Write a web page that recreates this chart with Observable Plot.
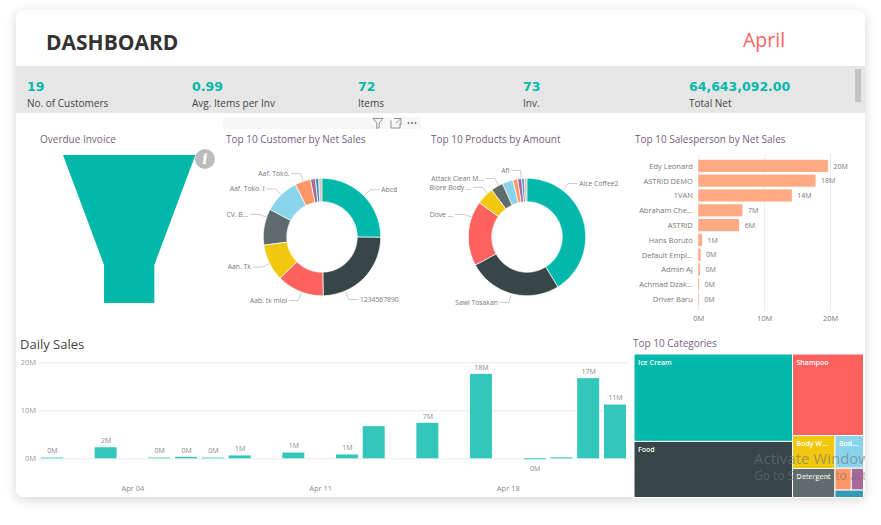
<!DOCTYPE html>
<html><head><meta charset="utf-8">
<script src="https://cdn.jsdelivr.net/npm/d3@7"></script>
<script src="https://cdn.jsdelivr.net/npm/@observablehq/plot@0.6"></script>
<style>
html,body{margin:0;padding:0;background:#fff;width:881px;height:525px;overflow:hidden;font-family:"Open Sans",sans-serif}
#card{position:absolute;left:16px;top:10px;width:849px;height:487px;background:#fff;border-radius:7px;box-shadow:0 3px 12px rgba(0,0,0,.16)}
#band{position:absolute;left:16px;top:65.5px;width:849px;height:47.5px;background:#e6e6e6}
#scroll{position:absolute;left:855px;top:69px;width:6px;height:33px;background:#c4c4c4}
#strip{position:absolute;left:223px;top:117px;width:198px;height:12px;background:#f7f7f7}
.t{position:absolute;white-space:nowrap;transform:translateY(-50%);line-height:1}
.p{position:absolute}
.p svg{display:block;overflow:visible}
#wm{position:absolute;left:754px;top:440px;width:111px;height:50px;overflow:hidden;pointer-events:none}
#wm div{position:absolute;left:0;white-space:nowrap;color:rgba(115,115,115,.62);line-height:1}
#info{position:absolute;left:195px;top:149px;width:20px;height:20px;border-radius:50%;background:#bdbcbd;color:#fff;font:italic bold 14px/20px "DejaVu Serif",serif;text-align:center}
</style></head><body>
<div id="card"></div><div id="band"></div><div id="scroll"></div><div id="strip"></div>
<svg style="position:absolute;left:372px;top:117px" width="46" height="12" fill="none" stroke="#777" stroke-width=".8">
<path d="M1 1.5H11L7.2 6V10.5L4.8 11.5V6Z"/><path d="M19 3.5V11H28V6M22 1.5H29V8M29 1.5L24 6.5"/>
<circle cx="36.500" cy="6" r=".7" fill="#777"/><circle cx="40" cy="6" r=".7" fill="#777"/><circle cx="43.500" cy="6" r=".7" fill="#777"/></svg>
<div id="root"></div>
<div id="info">i</div>
<div id="wm"><div style="top:11px;font-size:15px">Activate Windows</div><div style="top:30px;font-size:12px">Go to Settings to activate Windows.</div></div>
<script>
// ---------- data ----------
const kpiValues = ["19","0.99","72","73","64,643,092.00"];
const kpiLabels = ["No. of Customers","Avg. Items per Inv","Items","Inv.","Total Net"];

const palette = ["#01B8AA","#374649","#FD625E","#F2C80F","#5F6B6D","#8AD4EB","#FE9666","#A66999","#3599B8","#DFBFBF"];

const funnelStep = [0,74.3,100];
const funnelWidth = [100,38,38];

const customerNames = ["Abcd","1234567890","Aab. tk mlol","Aan. Tk","CV. B...","Aaf. Toko. I","Aaf. Toko.","","",""];
const customerSales = [16.25,15.9,8.4,6.55,6.45,6.3,2.8,.85,.6,.54];
const productNames = ["Aice Coffee2","Sawi Tosakan","Dove ...","Biore Body ...","Attack Clean M...","","","Afi","",""];
const productAmounts = [148.5,93.3,64.2,17.5,12,10.8,4.7,4,2.5,2.5];

const salesPeople = ["Edy Leonard","ASTRID DEMO","1VAN","Abraham Che...","ASTRID","Hans Boruto","Default Empl...","Admin AJ","Achmad Dzak...","Driver Baru"];
const salesNet = [19.7,17.8,14.2,6.7,6.2,.56,.35,.25,.12,.08];

const dayLabels = ["Apr 01","Apr 02","Apr 03","Apr 04","Apr 05","Apr 06","Apr 07","Apr 08","Apr 09","Apr 10","Apr 11","Apr 12","Apr 13","Apr 14","Apr 15","Apr 16","Apr 17","Apr 18","Apr 19","Apr 20","Apr 21","Apr 22"];
const soldDays = ["Apr 01","Apr 03","Apr 05","Apr 06","Apr 07","Apr 08","Apr 10","Apr 12","Apr 13","Apr 15","Apr 17","Apr 19","Apr 20","Apr 21","Apr 22"];
const daySales = [.15,2.3,.15,.3,.15,.6,1.2,.8,6.7,7.4,17.6,-.2,.2,16.7,11.2];
const unlabelledDays = ["Apr 13","Apr 20"];

const categoryNames = ["Ice Cream","Food","Shampoo","Body W...","Detergent","Bod...","","",""];
const categoryValues = [13400,8600,5600,1353,1189,900,345,258,205];
const categoryColorIndex = [0,1,2,3,4,5,6,7,8];

// ---------- layout (not data) ----------
const FONT = '"Open Sans",sans-serif';
const customerLeaderDeg = [45,157,201,244,290,316,341];
const productLeaderDeg = {0:37,1:196,2:290,3:318,4:331,7:354};
const root = document.getElementById("root");
function text(s,x,y,css){const d=document.createElement("div");d.className="t";d.textContent=s;d.style.cssText=`left:${x}px;top:${y}px;${css}`;root.appendChild(d);}
function place(plot,x,y){const d=document.createElement("div");d.className="p";d.style.left=x+"px";d.style.top=y+"px";d.appendChild(plot);root.appendChild(d);}

text("DASHBOARD",46,42,"font:700 21px "+FONT+";color:#333");
text("April",743,39,"font:400 19.500px "+FONT+";color:#FD625E");
const kpiX=[27,192,358,523,689];
kpiValues.forEach((v,i)=>{
  text(v,kpiX[i],86,'font:700 12.500px "DejaVu Sans",sans-serif;color:#01B8AA');
  text(kpiLabels[i],kpiX[i],103,"font:400 10px "+FONT+";color:#444");
});
const titleCss="font:400 10px "+FONT+";color:#77607e";
text("Overdue Invoice",40,139,titleCss);
text("Top 10 Customer by Net Sales",226,139,titleCss);
text("Top 10 Products by Amount",431,139,titleCss);
text("Top 10 Salesperson by Net Sales",635,139,titleCss);
text("Top 10 Categories",633,343,titleCss);
text("Daily Sales",20,344,"font:400 13px "+FONT+";color:#444");

// funnel
place(Plot.plot({width:132.4,height:148,margin:0,
  x:{axis:null,domain:[-50,50]},y:{axis:null,domain:[0,100],reverse:true},
  marks:[Plot.area(funnelStep.map((s,i)=>({s,w:funnelWidth[i]})),{x1:d=>-d.w/2,x2:d=>d.w/2,y1:"s",y2:"s",fill:palette[0]})]
}),63.3,155);

// donuts
function donut(names,values,leaderDeg,cx,cy){
  const W=240,H=180,R=58.7,hole=.6;
  const arcs=d3.pie().sort(null).value(d=>d)(values);
  const rows=[];
  arcs.forEach((a,i)=>{
    const n=Math.max(2,Math.ceil((a.endAngle-a.startAngle)/.03));
    d3.range(n+1).forEach(k=>{
      const t=a.startAngle+(a.endAngle-a.startAngle)*k/n;
      rows.push({slice:i,x1:Math.sin(t),y1:Math.cos(t),x2:hole*Math.sin(t),y2:hole*Math.cos(t)});
    });
  });
  const leaders=[],labels=[];
  Object.entries(leaderDeg).forEach(([i,deg])=>{
    const t=deg*Math.PI/180,sx=Math.sin(t),cy2=Math.cos(t),side=sx>=0?1:-1;
    const ex=1.15*sx,ey=1.15*cy2,tx=ex+side*9/R;
    [[1.02*sx,1.02*cy2],[ex,ey],[tx,ey]].forEach(p=>leaders.push({i:+i,x:p[0],y:p[1]}));
    labels.push({x:tx,y:ey,name:names[i],side});
  });
  place(Plot.plot({width:W,height:H,margin:0,
    style:{fontFamily:FONT},
    x:{axis:null,domain:[-W/2/R,W/2/R]},y:{axis:null,domain:[-H/2/R,H/2/R]},
    color:{type:"ordinal",domain:d3.range(10),range:palette},
    marks:[
      Plot.area(rows,{x1:"x1",y1:"y1",x2:"x2",y2:"y2",z:"slice",fill:"slice",stroke:"#fff",strokeWidth:.7}),
      Plot.line(leaders,{x:"x",y:"y",z:"i",stroke:"#b5b5b5",strokeWidth:.7}),
      Plot.text(labels.filter(d=>d.side>0),{x:"x",y:"y",text:"name",textAnchor:"start",dx:2,fontSize:6.800,fill:"#777"}),
      Plot.text(labels.filter(d=>d.side<0),{x:"x",y:"y",text:"name",textAnchor:"end",dx:-2,fontSize:6.800,fill:"#777"})
    ]
  }),cx-W/2,cy-H/2);
}
donut(customerNames,customerSales,customerLeaderDeg,322,237.3);
donut(productNames,productAmounts,productLeaderDeg,526.7,237.3);

// salesperson bars
const salesRows=salesPeople.map((n,i)=>({n,v:salesNet[i]}));
const M=v=>Math.round(Math.abs(v))+"M";
place(Plot.plot({width:235,height:175,marginLeft:68.3,marginRight:18.500,marginTop:4,marginBottom:14,
  style:{fontFamily:FONT,fontSize:"7.500px",color:"#777"},
  x:{domain:[0,22.5],label:null},
  y:{domain:salesPeople,paddingInner:.18,paddingOuter:.39,round:false,label:null},
  marks:[
    Plot.gridX({ticks:[0,10,20],stroke:"#ececec",strokeOpacity:1}),
    Plot.axisX({ticks:[0,10,20],tickFormat:d=>d+"M",tickSize:0,tickPadding:4,label:null,fill:"#777"}),
    Plot.axisY({tickSize:0,tickPadding:6,label:null,fill:"#777"}),
    Plot.barX(salesRows,{x:"v",y:"n",fill:"#FFA985"}),
    Plot.text(salesRows,{x:"v",y:"n",text:d=>M(d.v),textAnchor:"start",dx:5,fontSize:7,fill:"#777"})
  ]
}),630,150);

// daily bars
const dayRows=soldDays.map((d,i)=>({d,v:daySales[i]}));
const labelled=dayRows.filter(r=>!unlabelledDays.includes(r.d));
const weekTicks=["Apr 04","Apr 11","Apr 18"];
place(Plot.plot({width:640,height:147,marginLeft:38.6,marginRight:11.6,marginTop:12.3,marginBottom:24.3,
  style:{fontFamily:FONT,fontSize:"7.500px"},
  x:{type:"band",domain:dayLabels,paddingInner:.18,paddingOuter:.09,round:false,label:null},
  y:{domain:[-3,20],label:null},
  marks:[
    Plot.gridY({ticks:[0,10,20],stroke:"#ececec",strokeOpacity:1}),
    Plot.axisY({ticks:[0,10,20],tickFormat:d=>d+"M",tickSize:0,tickPadding:3,label:null,fill:"#999"}),
    Plot.axisX({ticks:weekTicks,tickSize:0,tickPadding:12,label:null,fill:"#888"}),
    Plot.barY(dayRows,{x:"d",y:"v",fill:"#33C6BB"}),
    Plot.text(labelled.filter(r=>r.v>=0),{x:"d",y:"v",text:r=>M(r.v),dy:-7,fontSize:7,fill:"#888"}),
    Plot.text(labelled.filter(r=>r.v<0),{x:"d",y:"v",text:r=>M(r.v),dy:9,fontSize:7,fill:"#888"})
  ]
}),0,350);

// treemap
const TW=229.5,TH=143.5;
const treeRoot=d3.hierarchy({children:categoryValues.map((v,i)=>({v,i}))}).sum(d=>d.v||0);
d3.treemap().tile(d3.treemapSquarify).size([TW,TH]).round(false)(treeRoot);
const cells=treeRoot.leaves().map(l=>({x0:l.x0,x1:l.x1,y0:l.y0,y1:l.y1,name:categoryNames[l.data.i],c:categoryColorIndex[l.data.i]}));
place(Plot.plot({width:TW,height:TH,margin:0,
  style:{fontFamily:FONT},
  x:{axis:null,domain:[0,TW]},y:{axis:null,domain:[0,TH],reverse:true},
  color:{type:"ordinal",domain:d3.range(10),range:palette},
  marks:[
    Plot.rect(cells,{x1:"x0",x2:"x1",y1:"y0",y2:"y1",fill:"c",stroke:"#fff",strokeWidth:1}),
    Plot.text(cells,{x:"x0",y:"y0",text:"name",textAnchor:"start",dx:3.500,dy:8,fontSize:7,fontWeight:600,fill:"#fff"})
  ]
}),633.5,353.5);
</script>
</body></html>
